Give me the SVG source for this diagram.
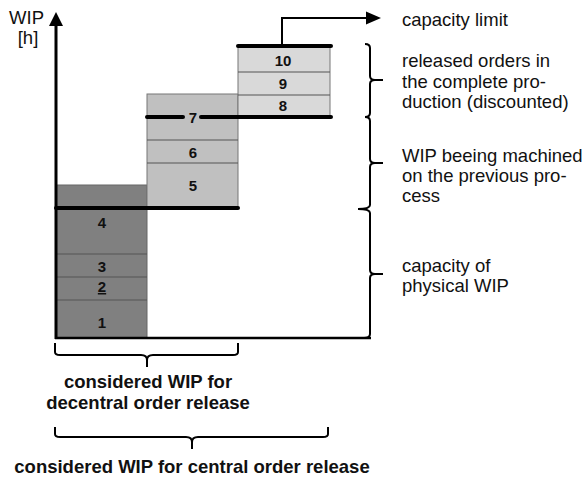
<svg xmlns="http://www.w3.org/2000/svg" width="586" height="477" viewBox="0 0 586 477">
<style>
.lbl{font-family:"Liberation Sans",Arial,sans-serif;font-size:18.5px;fill:#111}
.bold{font-family:"Liberation Sans",Arial,sans-serif;font-size:18.5px;font-weight:bold;fill:#111;text-anchor:middle}
.num{font-family:"Liberation Sans",Arial,sans-serif;font-size:15px;font-weight:bold;fill:#111;text-anchor:middle}
.div{stroke:#555;stroke-width:1.2}
.thick{stroke:#000;stroke-width:4;stroke-linecap:round}
.brace{fill:none;stroke:#000;stroke-width:2}
</style>
<rect width="586" height="477" fill="#fff"/>
<g id="column1">
<rect x="56" y="185" width="91" height="153" fill="#808080" stroke="#666" stroke-width="1"/>
<line class="div" x1="56" y1="254" x2="147" y2="254"/>
<line class="div" x1="56" y1="277" x2="147" y2="277"/>
<line class="div" x1="56" y1="300" x2="147" y2="300"/>
<text class="num" x="102" y="228">4</text>
<text class="num" x="102" y="272">3</text>
<text class="num" x="102" y="292" text-decoration="underline">2</text>
<text class="num" x="102" y="328">1</text>
</g>
<g id="column2">
<rect x="147" y="94" width="91" height="114" fill="#c0c0c0" stroke="#777" stroke-width="1"/>
<line class="div" x1="147" y1="140" x2="238" y2="140"/>
<line class="div" x1="147" y1="163" x2="238" y2="163"/>
<text class="num" x="193" y="123">7</text>
<text class="num" x="193" y="158">6</text>
<text class="num" x="193" y="191">5</text>
</g>
<g id="column3">
<rect x="238" y="46" width="92" height="71" fill="#d9d9d9" stroke="#777" stroke-width="1"/>
<line class="div" x1="238" y1="72" x2="330" y2="72"/>
<line class="div" x1="238" y1="95" x2="330" y2="95"/>
<text class="num" x="283" y="66">10</text>
<text class="num" x="283" y="89">9</text>
<text class="num" x="283" y="111">8</text>
</g>
<g id="levels">
<line class="thick" x1="56" y1="208" x2="238" y2="208"/>
<line class="thick" x1="147" y1="117" x2="183" y2="117"/>
<line class="thick" x1="201" y1="117" x2="331" y2="117"/>
<line class="thick" x1="238" y1="46" x2="331" y2="46"/>
</g>
<g id="axes">
<line x1="56" y1="24" x2="56" y2="339" stroke="#000" stroke-width="3"/>
<polygon points="49,26 63,26 56,12" fill="#000"/>
<line x1="55" y1="338" x2="371" y2="338" stroke="#000" stroke-width="2.5"/>
<text class="lbl" x="44" y="24" text-anchor="end" font-size="16.5">WIP</text>
<text class="lbl" x="28" y="44" text-anchor="middle" font-size="16">[h]</text>
</g>
<g id="connectors">
<path d="M282,46 V18 H368" fill="none" stroke="#000" stroke-width="2"/>
<polygon points="366,11.5 381,18 366,24.5" fill="#000"/>
<path class="brace" d="M365,44 Q370,44 370,48 V76 Q370,80 375,80 H383 M375,80 Q370,80 370,84 V113 Q370,117 365,117"/>
<path class="brace" d="M365,117 Q370,117 370,121 V159 Q370,163 375,163 H383 M375,163 Q370,163 370,167 V205 Q370,209 358,209"/>
<path class="brace" d="M358,209 Q370,209 370,213 V270 Q370,274 375,274 H383 M375,274 Q370,274 370,278 V334 Q370,338 364,338"/>
<path class="brace" d="M55,343 V352 Q55,355 60,355 H141 Q147,355 147,360 V367 M147,360 Q147,355 153,355 H233 Q238,355 238,352 V343"/>
<path class="brace" d="M55,427 V434 Q55,437 60,437 H186 Q192,437 192,442 V449 M192,442 Q192,437 198,437 H323 Q328,437 328,434 V427"/>
</g>
<g id="labels">
<text class="lbl" x="402" y="26">capacity limit</text>
<text class="lbl" x="402" y="67">released orders in</text>
<text class="lbl" x="402" y="87.5">the complete pro-</text>
<text class="lbl" x="402" y="108">duction (discounted)</text>
<text class="lbl" x="402" y="162">WIP beeing machined</text>
<text class="lbl" x="402" y="182">on the previous pro-</text>
<text class="lbl" x="402" y="202">cess</text>
<text class="lbl" x="402" y="272">capacity of</text>
<text class="lbl" x="402" y="292">physical WIP</text>
<text class="bold" x="148" y="388">considered WIP for</text>
<text class="bold" x="148" y="409">decentral order release</text>
<text class="bold" x="192" y="473">considered WIP for central order release</text>
</g>
</svg>
